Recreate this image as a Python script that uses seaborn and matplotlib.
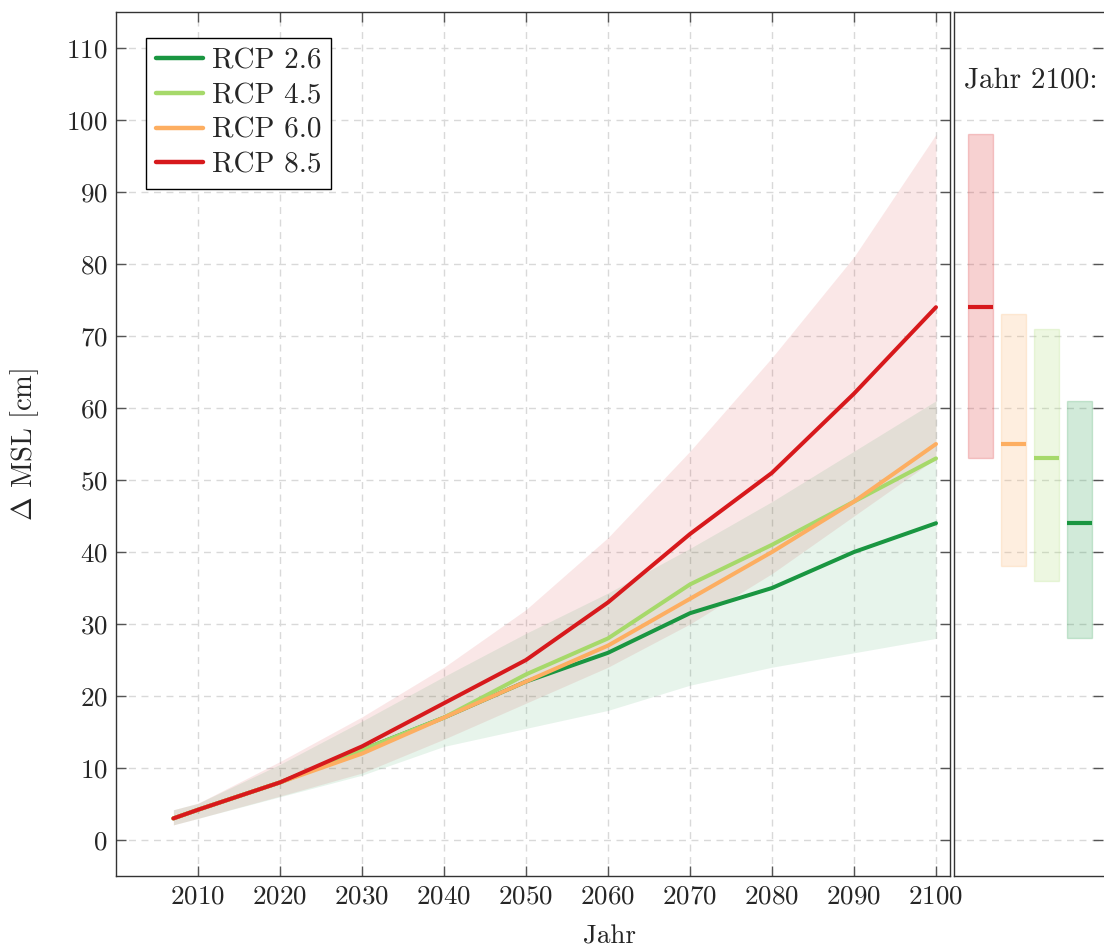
import numpy as np
import pandas as pd
import matplotlib
matplotlib.use("Agg")
import matplotlib.pyplot as plt
import seaborn as sns

# Projected global mean sea level rise (cm) per RCP scenario
years = [2007, 2010, 2020, 2030, 2040, 2050, 2060, 2070, 2080, 2090, 2100]
rcp26 = [3, 4.2, 8, 12.5, 17, 22, 26, 31.5, 35, 40, 44]
rcp45 = [3, 4.2, 8, 12.5, 17, 23, 28, 35.5, 41, 47, 53]
rcp60 = [3, 4.2, 8, 12, 17, 22, 27, 33.5, 40, 47, 55]
rcp85 = [3, 4.2, 8, 13, 19, 25, 33, 42.5, 51, 62, 74]

# Likely ranges for the lowest and highest scenario
rcp26_low = [2.1, 3, 6, 9, 13, 15.5, 18, 21.5, 24, 26, 28]
rcp26_high = [4.2, 5.1, 10.5, 16.5, 22.7, 28.7, 34.3, 40.5, 47, 54, 61]
rcp85_low = [2.1, 3, 6.1, 9.3, 14, 19, 24, 30, 37, 45, 53]
rcp85_high = [4.2, 5.1, 10.9, 17.1, 24, 32, 42, 54, 67, 81, 98]

# Ranges in the year 2100 (low, median, high)
bar_scenarios = ["RCP 8.5", "RCP 6.0", "RCP 4.5", "RCP 2.6"]
bar_low = [53, 38, 36, 28]
bar_median = [74, 55, 53, 44]
bar_high = [98, 73, 71, 61]

scenarios = ["RCP 2.6", "RCP 4.5", "RCP 6.0", "RCP 8.5"]
colors = {"RCP 2.6": "#1a9641", "RCP 4.5": "#a6d96a",
          "RCP 6.0": "#fdae61", "RCP 8.5": "#d7191c"}

sns.set_theme(style="white")
plt.rcParams["font.family"] = ["cmr10"]
plt.rcParams["mathtext.fontset"] = "cm"
plt.rcParams["axes.unicode_minus"] = False
plt.rcParams["axes.formatter.use_mathtext"] = True

FS = 19.5
LFS = 21
W, H = 1104, 949
fig = plt.figure(figsize=(W / 100, H / 100), dpi=100)
ax = fig.add_axes([116 / W, 1 - 876 / H, 834 / W, 864 / H])
ax2 = fig.add_axes([954 / W, 1 - 876 / H, 149 / W, 864 / H])

grid_kw = dict(color="#d9d9d9", linewidth=1.0, linestyle=(0, (5, 4)))

# Uncertainty bands
ax.fill_between(years, rcp85_low, rcp85_high, color=colors["RCP 8.5"],
                alpha=0.1, linewidth=0, zorder=1)
ax.fill_between(years, rcp26_low, rcp26_high, color=colors["RCP 2.6"],
                alpha=0.1, linewidth=0, zorder=1)

df = pd.DataFrame({
    "Jahr": years * 4,
    "MSL": rcp26 + rcp45 + rcp60 + rcp85,
    "Szenario": np.repeat(scenarios, len(years)),
})
sns.lineplot(data=df, x="Jahr", y="MSL", hue="Szenario", hue_order=scenarios,
             palette=colors, linewidth=2.9, ax=ax, zorder=3)

ax.set_xlim(2000, 2000 + 834 / 8.2)
ax.set_ylim(-5, 115)
ax.set_xticks(list(range(2010, 2101, 10)))
ax.set_yticks(list(range(0, 111, 10)))
ax.set_axisbelow(True)
ax.grid(True, **grid_kw)
ax.tick_params(axis="both", which="major", direction="in", length=7,
               width=1.0, color="#555555", labelsize=FS,
               top=True, right=True, bottom=True, left=True, pad=6)
ax.set_xlabel("Jahr", fontsize=FS, labelpad=12)
ax.xaxis.label.set_x((610 - 116) / 834)
ax.set_ylabel(r"$\Delta$ MSL [cm]", fontsize=20.5, labelpad=18)

handles, labels = ax.get_legend_handles_labels()
leg = ax.legend(handles, labels, loc="upper left",
                bbox_to_anchor=(30 / 834, 1 - 26 / 864), borderaxespad=0,
                fontsize=LFS, handlelength=1.6, handletextpad=0.3,
                labelspacing=0.28, borderpad=0.35, fancybox=False,
                framealpha=1, edgecolor="black")
leg.get_frame().set_linewidth(1.0)
for h in leg.get_lines():
    h.set_linewidth(3.2)

# Side panel: ranges for the year 2100
pos = np.arange(len(bar_scenarios))
bar_colors = [colors[s] for s in bar_scenarios]
heights = [h - l for l, h in zip(bar_low, bar_high)]
ax2.bar(pos, heights, bottom=bar_low, width=0.76, color=bar_colors,
        alpha=0.2, edgecolor=bar_colors, linewidth=1.0, zorder=2)
ax2.hlines(bar_median, pos - 0.38, pos + 0.38, colors=bar_colors,
           linewidth=3.0, zorder=3)
ax2.set_xlim(-26.5 / 33, (149 - 26.5) / 33)
ax2.set_ylim(-5, 115)
ax2.set_xticks([])
ax2.set_yticks(list(range(0, 111, 10)))
ax2.set_axisbelow(True)
ax2.grid(True, axis="y", **grid_kw)
ax2.tick_params(axis="y", direction="in", length=7, width=1.0,
                color="#555555", left=False, right=True,
                labelleft=False, labelright=False)
ax2.text(10 / 149, 1 - 68 / 864, "Jahr 2100:", transform=ax2.transAxes,
         fontsize=LFS, ha="left", va="center")

for a in (ax, ax2):
    for sp in a.spines.values():
        sp.set_color("#333333")
        sp.set_linewidth(1.0)
        sp.set_visible(True)
ax2.spines["right"].set_visible(False)

fig.savefig("out.png", dpi=100)
